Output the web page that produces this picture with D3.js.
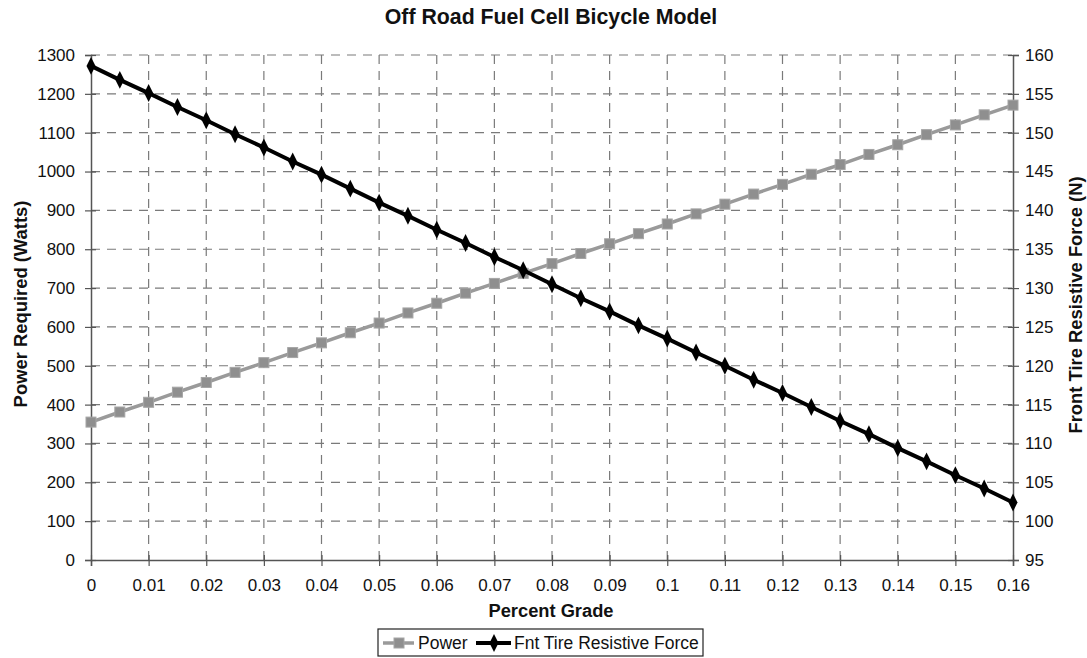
<!DOCTYPE html>
<html><head><meta charset="utf-8">
<script src="https://cdn.jsdelivr.net/npm/d3@7"></script>
<style>body{margin:0;background:#fff}svg{display:block}text{font-family:"Liberation Sans",Arial,sans-serif;fill:#111}</style>
</head><body><svg id="c" width="1087" height="658"></svg>
<script>
const grade = [0,0.005,0.01,0.015,0.02,0.025,0.03,0.035,0.04,0.045,0.05,0.055,0.06,0.065,0.07,0.075,0.08,0.085,0.09,0.095,0.1,0.105,0.11,0.115,0.12,0.125,0.13,0.135,0.14,0.145,0.15,0.155,0.16];
const power = [355,381,406,432,457,483,508,534,559,585,610,636,661,687,712,738,763,789,814,840,865,891,916,942,967,993,1018,1044,1069,1095,1120,1146,1171];
const force = [158.6,156.8,155.1,153.3,151.6,149.8,148.1,146.3,144.6,142.8,141.0,139.3,137.5,135.8,134.0,132.3,130.5,128.7,127.0,125.2,123.5,121.7,120.0,118.2,116.5,114.7,112.9,111.2,109.4,107.7,105.9,104.2,102.4];
const xTicks = [0,0.01,0.02,0.03,0.04,0.05,0.06,0.07,0.08,0.09,0.1,0.11,0.12,0.13,0.14,0.15,0.16];
const leftTicks = [0,100,200,300,400,500,600,700,800,900,1000,1100,1200,1300];
const rightTicks = [95,100,105,110,115,120,125,130,135,140,145,150,155,160];

const svg = d3.select("#c");
const L=91,R=1013,T=55,B=560;
const x = d3.scaleLinear().domain([0,0.16]).range([L,R]);
const yL = d3.scaleLinear().domain([0,1300]).range([B,T]);
const yR = d3.scaleLinear().domain([95,160]).range([B,T]);

// grid
const g = svg.append("g");
g.selectAll(".h").data(leftTicks.filter(d=>d>0)).join("line")
 .attr("x1",L).attr("x2",R).attr("y1",d=>yL(d)).attr("y2",d=>yL(d))
 .attr("stroke","#7a7a7a").attr("stroke-width",1.2).attr("stroke-dasharray","9,7");
g.selectAll(".v").data(xTicks.filter(d=>d>0&&d<0.16)).join("line")
 .attr("y1",T).attr("y2",B).attr("x1",d=>x(d)).attr("x2",d=>x(d))
 .attr("stroke","#7a7a7a").attr("stroke-width",1.2).attr("stroke-dasharray","9,7");

// axes
const fmtX = d=> d===0?"0":String(+d.toFixed(2));
const ax = svg.append("g").attr("transform",`translate(0,${B})`)
 .call(d3.axisBottom(x).tickValues(xTicks).tickFormat(fmtX).tickSize(6).tickPadding(13));
const al = svg.append("g").attr("transform",`translate(${L},0)`)
 .call(d3.axisLeft(yL).tickValues(leftTicks).tickFormat(d3.format("d")).tickSize(6).tickPadding(10));
const ar = svg.append("g").attr("transform",`translate(${R},0)`)
 .call(d3.axisRight(yR).tickValues(rightTicks).tickFormat(d3.format("d")).tickSize(6).tickPadding(6));
[ax,al,ar].forEach(a=>{
  a.selectAll("path.domain").attr("stroke","#555").attr("stroke-width",1.5);
  a.selectAll(".tick line").attr("stroke","#555").attr("stroke-width",1.2);
  a.selectAll(".tick text").attr("font-size",17).attr("font-family","Liberation Sans, Arial, sans-serif").attr("fill","#111");
});
// cross ticks on left/right
al.selectAll(".tick line").attr("x1",-6).attr("x2",5);
ar.selectAll(".tick line").attr("x1",-5).attr("x2",6);
ax.selectAll(".tick line").attr("y1",-5).attr("y2",6);

// series
const linePow = d3.line().x((d,i)=>x(grade[i])).y(d=>yL(d));
const lineF = d3.line().x((d,i)=>x(grade[i])).y(d=>yR(d));
svg.append("path").datum(power).attr("d",linePow).attr("fill","none").attr("stroke","#9a9a9a").attr("stroke-width",3.5);
svg.selectAll(".pm").data(power).join("rect")
 .attr("x",(d,i)=>x(grade[i])-5).attr("y",d=>yL(d)-5).attr("width",10).attr("height",10)
 .attr("fill","#8f8f8f").attr("stroke","#a5a5a5").attr("stroke-width",1);
svg.append("path").datum(force).attr("d",lineF).attr("fill","none").attr("stroke","#000").attr("stroke-width",4);
const dia = d3.symbol().type(d3.symbolDiamond).size(70);
svg.selectAll(".fm").data(force).join("path")
 .attr("transform",(d,i)=>`translate(${x(grade[i])},${yR(d)}) scale(1,1.15)`)
 .attr("d",dia).attr("fill","#000");

// titles
svg.append("text").attr("x",551).attr("y",24).attr("text-anchor","middle")
 .attr("font-size",21.3).attr("font-weight","bold").text("Off Road Fuel Cell Bicycle Model");
svg.append("text").attr("transform","translate(27,304) rotate(-90)").attr("text-anchor","middle")
 .attr("font-size",18.4).attr("font-weight","bold").text("Power Required (Watts)");
svg.append("text").attr("transform","translate(1082,305) rotate(-90)").attr("text-anchor","middle")
 .attr("font-size",18.4).attr("font-weight","bold").text("Front Tire Resistive Force (N)");
svg.append("text").attr("x",551).attr("y",617).attr("text-anchor","middle")
 .attr("font-size",18.3).attr("font-weight","bold").text("Percent Grade");

// legend
const lg = svg.append("g");
lg.append("rect").attr("x",378).attr("y",629).attr("width",325).attr("height",27)
 .attr("fill","#fff").attr("stroke","#222").attr("stroke-width",1.2);
lg.append("line").attr("x1",383).attr("x2",414).attr("y1",643).attr("y2",643).attr("stroke","#9a9a9a").attr("stroke-width",3.5);
lg.append("rect").attr("x",394).attr("y",638).attr("width",10).attr("height",10).attr("fill","#8f8f8f").attr("stroke","#a5a5a5");
lg.append("text").attr("x",418).attr("y",649).attr("font-size",17.5).text("Power");
lg.append("line").attr("x1",476).attr("x2",511).attr("y1",643).attr("y2",643).attr("stroke","#000").attr("stroke-width",4);
lg.append("path").attr("transform","translate(494,643) scale(1,1.15)").attr("d",dia).attr("fill","#000");
lg.append("text").attr("x",514).attr("y",649).attr("font-size",17.5).text("Fnt Tire Resistive Force");
</script></body></html>
